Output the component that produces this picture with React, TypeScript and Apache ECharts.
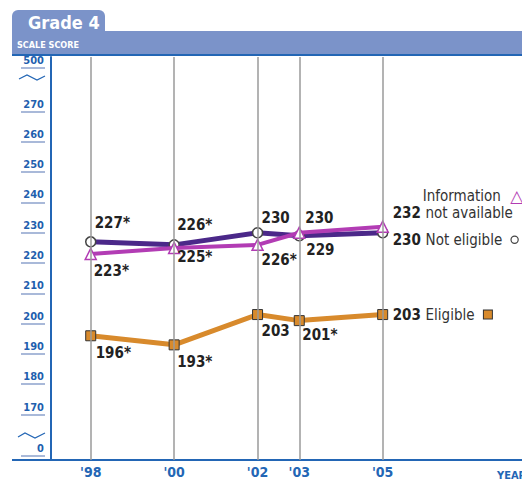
import React, { useEffect, useRef } from "react";
import * as echarts from "echarts";

// ---- data ----
const years = [1998, 2000, 2002, 2003, 2005];
const yearLabels = ["'98", "'00", "'02", "'03", "'05"];
const notEligible = [227, 226, 230, 229, 230];
const notEligibleStar = [true, true, false, false, false];
const infoNA = [223, 225, 226, 230, 232];
const infoNAStar = [true, true, true, false, false];
const eligible = [196, 193, 203, 201, 203];
const eligibleStar = [true, true, false, true, false];
const yTicks = [170, 180, 190, 200, 210, 220, 230, 240, 250, 260, 270];
const breakLowLabel = "0";
const breakHighLabel = "500";

// ---- layout (positions only) ----
const Y_MIN = 155;
const Y_MAX = 288;
const BREAK_LOW_POS = 156.3;
const BREAK_HIGH_POS = 284.4;
const X_MIN = 1997.048;
const X_MAX = 2008.34;

const neOffsets: number[][] = [[4, -19], [3, -20], [4, -15], [7, 14], [10, 7]];
const naOffsets: number[][] = [[3, 17], [3, 9], [4, 15], [6, -15], [10, -22]];
const elOffsets: number[][] = [[5, 17], [3, 17], [4, 16], [3, 14], [10, 0]];

const FONT = "'Liberation Sans Narrow', 'DejaVu Sans Condensed', 'Arial Narrow', sans-serif";
const BLUE = "#2366b5";
const PURPLE = "#4b2889";
const MAGENTA = "#b23cb4";
const ORANGE = "#d88a2c";

const numStyle = { fontFamily: FONT, fontWeight: "bold" as const, fontSize: 15, color: "#222", lineHeight: 17 };
const txtStyle = { fontFamily: FONT, fontWeight: "normal" as const, fontSize: 15, color: "#333", lineHeight: 17 };

function buildData(values: number[], stars: boolean[], offsets: number[][], last: string) {
  return values.map((v, i) => {
    const isLast = i === values.length - 1;
    return {
      value: [years[i], v],
      label: {
        show: true,
        position: "inside",
        align: "left",
        verticalAlign: "middle",
        offset: offsets[i],
        formatter: isLast ? last : String(v) + (stars[i] ? "*" : ""),
        fontFamily: FONT,
        fontWeight: "bold",
        fontSize: 15,
        color: "#222",
        rich: {
          v: numStyle,
          t: txtStyle,
          p: { width: 30, lineHeight: 17 },
          c: { width: 6, height: 6, borderRadius: 4, borderColor: "#444", borderWidth: 1.2, backgroundColor: "#fff" },
          sq: { width: 8, height: 8, borderColor: "#333", borderWidth: 1, backgroundColor: ORANGE },
          tri: { fontSize: 17, color: MAGENTA, fontFamily: "DejaVu Sans", lineHeight: 17 },
        },
      },
    };
  });
}

export default function App() {
  const ref = useRef<HTMLDivElement>(null);
  useEffect(() => {
    if (!ref.current) return;
    const chart = echarts.init(ref.current, undefined, { renderer: "svg" });
    const option: any = {
      animation: false,
      grid: { left: 51, right: 0, top: 57, bottom: 23, containLabel: false },
      xAxis: {
        type: "value",
        min: X_MIN,
        max: X_MAX,
        axisLine: { show: true, lineStyle: { color: BLUE, width: 2 } },
        axisTick: { show: false },
        splitLine: { show: false },
        axisLabel: {
          customValues: years,
          formatter: (v: number) => yearLabels[years.indexOf(Math.round(v))] ?? "",
          color: BLUE,
          fontFamily: FONT,
          fontWeight: "bold",
          fontSize: 14,
          margin: 5,
        },
      },
      yAxis: [
        {
          type: "value",
          min: Y_MIN,
          max: Y_MAX,
          axisLine: { show: true, lineStyle: { color: BLUE, width: 2 } },
          axisTick: { show: false },
          axisLabel: { show: false },
          splitLine: { show: false },
        },
        {
          type: "value",
          min: Y_MIN,
          max: Y_MAX,
          position: "left",
          offset: 6,
          axisLine: { show: false },
          splitLine: { show: false },
          axisTick: {
            show: true,
            length: 24,
            customValues: [BREAK_LOW_POS, ...yTicks, BREAK_HIGH_POS],
            lineStyle: { color: "#a9b9d9", width: 2 },
          },
          axisLabel: {
            customValues: [BREAK_LOW_POS, ...yTicks, BREAK_HIGH_POS],
            formatter: (v: number) =>
              Math.abs(v - BREAK_LOW_POS) < 0.5 ? breakLowLabel : Math.abs(v - BREAK_HIGH_POS) < 0.5 ? breakHighLabel : String(v),
            color: "#1f5fae",
            fontFamily: FONT,
            fontWeight: "bold",
            fontSize: 11,
            margin: 1,
            verticalAlign: "bottom",
            padding: [0, 0, 2, 0],
          },
        },
      ],
      graphic: [
        { type: "rect", shape: { x: 12, y: 31, width: 510, height: 23 }, style: { fill: "#7b93c9" } },
        { type: "rect", shape: { x: 12, y: 10, width: 93, height: 30, r: [6, 6, 0, 0] }, style: { fill: "#7b93c9" } },
        { type: "line", shape: { x1: 12, y1: 55, x2: 522, y2: 55 }, style: { stroke: BLUE, lineWidth: 2 } },
        { type: "line", shape: { x1: 12, y1: 460, x2: 52, y2: 460 }, style: { stroke: BLUE, lineWidth: 2 } },
        {
          type: "text", x: 28, y: 22,
          style: { text: "Grade 4", fill: "#fff", font: "bold 18px " + FONT, textVerticalAlign: "middle" },
        },
        {
          type: "text", x: 17, y: 45,
          style: { text: "SCALE SCORE", fill: "#fff", font: "bold 9px " + FONT, textVerticalAlign: "middle" },
        },
        {
          type: "text", x: 497, y: 475,
          style: { text: "YEAR", fill: BLUE, font: "bold 11px " + FONT, textVerticalAlign: "middle" },
        },
        {
          type: "polyline", shape: { points: [[19, 79], [27, 75], [37, 80], [45, 76]] },
          style: { stroke: BLUE, lineWidth: 1.2, fill: null },
        },
        {
          type: "polyline", shape: { points: [[18, 437], [25, 433], [35, 438], [45, 433]] },
          style: { stroke: BLUE, lineWidth: 1.2, fill: null },
        },
      ],
      series: [
        {
          type: "line",
          data: [],
          z: 1,
          markLine: {
            silent: true,
            symbol: ["none", "none"],
            label: { show: false },
            lineStyle: { color: "#9a9a9a", width: 1.5, type: "solid" },
            data: years.map((y) => ({ xAxis: y })),
          },
        },
        {
          name: "Not eligible",
          type: "line",
          z: 3,
          data: buildData(notEligible, notEligibleStar, neOffsets, "{v|230} {t|Not eligible}  {c|}"),
          symbol: "circle",
          symbolSize: 10,
          lineStyle: { color: PURPLE, width: 5 },
          itemStyle: { color: "#fff", borderColor: "#444", borderWidth: 1.5 },
        },
        {
          name: "Information not available",
          type: "line",
          z: 4,
          data: buildData(infoNA, infoNAStar, naOffsets, "{p|}{t|Information}  {tri|△}\n{v|232} {t|not available}"),
          symbol: "triangle",
          symbolSize: 11,
          lineStyle: { color: MAGENTA, width: 4 },
          itemStyle: { color: "#fff", borderColor: MAGENTA, borderWidth: 1.5 },
        },
        {
          name: "Eligible",
          type: "line",
          z: 3,
          data: buildData(eligible, eligibleStar, elOffsets, "{v|203} {t|Eligible}  {sq|}"),
          symbol: "rect",
          symbolSize: 10,
          lineStyle: { color: ORANGE, width: 5 },
          itemStyle: { color: ORANGE, borderColor: "#333", borderWidth: 1 },
        },
      ],
    };
    chart.setOption(option);
    return () => chart.dispose();
  }, []);
  return <div ref={ref} style={{ position: "fixed", left: 0, top: 0, width: 522, height: 483, background: "#fff" }} />;
}
